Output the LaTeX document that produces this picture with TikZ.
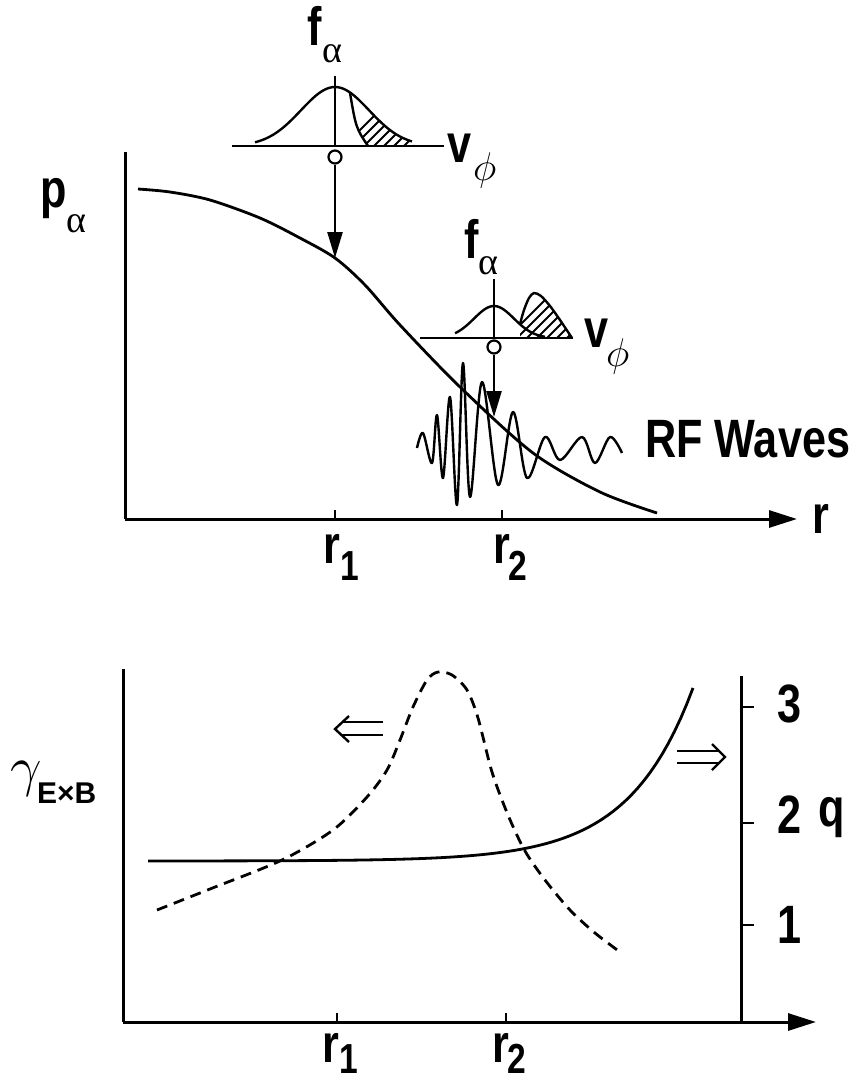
\documentclass[tikz,border=0pt]{standalone}
\usepackage{fix-cm}
\usepackage{fontspec}
\usetikzlibrary{arrows.meta}
\newfontfamily\lab[FakeStretch=0.8]{Liberation Sans}
\newfontfamily\labw{Liberation Sans}
\newfontfamily\grk{Liberation Serif}

\tikzset{
  axis/.style={line width=3pt},
  axtip/.style={-{Triangle[length=28pt,width=17pt]}},
  curve/.style={line width=2.8pt, line join=round},
  thinline/.style={line width=2.4pt},
  hatch/.style={line width=1.8pt},
  pointer/.style={line width=2.4pt, -{Triangle[length=26pt,width=15pt]}},
  dot/.style={draw, circle, line width=2.2pt, minimum size=13pt, inner sep=0pt, fill=white},
  big/.style={font=\lab\bfseries\fontsize{54}{54}\selectfont, inner sep=0pt, anchor=base west},
  subnum/.style={font=\lab\bfseries\fontsize{42}{42}\selectfont, inner sep=0pt, anchor=base west},
  greek/.style={font=\grk\fontsize{38}{38}\selectfont, inner sep=0pt, anchor=base west},
  mgreek/.style={font=\fontsize{40}{40}\selectfont, inner sep=0pt, anchor=base west},
}

\begin{document}
\begin{tikzpicture}[x=1pt,y=-1pt]
\useasboundingbox (0,0) rectangle (857,1085);

% ---------- top panel: p_alpha(r)
\draw[axis] (125,152) -- (125,519);
\draw[axis,axtip] (125,519) -- (797,519);
\foreach \x in {335,502} \draw[thinline] (\x,519) -- (\x,510);
\node[big] (pa) at (40,207) {p};
\node[greek] (pasub) at (66,232) {α};
\node[big] (rlab) at (812,533) {r};
\node[big] (ra) at (323,563) {r};
\node[subnum] (rasub) at (340,580) {1};
\node[big] (rb) at (493,563) {r};
\node[subnum] (rbsub) at (508,580) {2};

% profile
\draw[curve] plot[smooth] coordinates {(138,189) (170,192) (210,200) (260,218)
  (300,238) (335,258) (365,285) (400,325) (460,387) (533,453) (600,492) (657,513)};

% distribution at r1
\draw[thinline] (232,146) -- (444,146);
\draw[thinline] (335,76) -- (335,146);
\draw[thinline] plot[domain=255:412, samples=60] (\x,{146-59*exp(-((\x-335)^2)/2312)});
\begin{scope}
  \clip plot[domain=350:414, samples=30] (\x,{146-59*exp(-((\x-335)^2)/2312)})
    -- (414,146) -- (368,146) .. controls (356,128) .. (350,{146-59*exp(-((350-335)^2)/2312)}) -- cycle;
  \foreach \i in {0,...,9} \draw[hatch] (330+10*\i,160) -- ++(60,-60);
\end{scope}
\draw[thinline] (368,146) .. controls (356,128) .. (350,93);
\node[big] (fa) at (307,45) {f};
\node[greek] (fasub) at (322,62) {α};
\node[big] (va) at (447,162) {v};
\node[mgreek] (vasub) at (473,180) {$\phi$};
\node[dot] (dota) at (335,157) {};
\coordinate (hita) at (335,258);
\draw[pointer] (dota) -- (hita);

% distribution at r2
\draw[thinline] (420,338) -- (573,338);
\draw[thinline] (494,279) -- (494,338);
\draw[thinline] plot[domain=455:545, samples=50] (\x,{338-32*exp(-((\x-494)^2)/800)});
\begin{scope}
  \clip plot[smooth] coordinates {(520,324) (524,310) (529,298) (534,293) (541,296)
    (550,306) (560,320) (572,338)} -- (520,338) -- cycle;
  \foreach \i in {0,...,8} \draw[hatch] (500+10*\i,345) -- ++(60,-60);
\end{scope}
\draw[thinline] plot[smooth] coordinates {(520,324) (524,310) (529,298) (534,293)
  (541,296) (550,306) (560,320) (572,338)};
\node[big] (fb) at (464,258) {f};
\node[greek] (fbsub) at (478,274) {α};
\node[big] (vb) at (584,347) {v};
\node[mgreek] (vbsub) at (606,366) {$\phi$};
\node[dot] (dotb) at (494,347) {};
\coordinate (hitb) at (494,417);
\draw[pointer] (dotb) -- (hitb);

% RF wave packet
\draw[thinline, line join=round] plot[smooth, tension=0.55] coordinates {(417,448) (423,433) (432,463)
  (437,415) (443,478) (450,397) (457,505) (463,363) (470,497) (482,382) (498,485)
  (513,412) (527,478) (545,437) (560,460) (582,437) (595,463) (610,437) (622,453)};
\node[big] (rf) at (645,457) {RF Waves};

% ---------- bottom panel: gamma_ExB and q
\draw[axis] (123,669) -- (123,1022);
\draw[axis,axtip] (123,1022) -- (816,1022);
\foreach \x in {337,506} \draw[thinline] (\x,1022) -- (\x,1013);
\node[big] (rc) at (322,1062) {r};
\node[subnum] (rcsub) at (339,1073) {1};
\node[big] (rd) at (492,1062) {r};
\node[subnum] (rdsub) at (507,1073) {2};
\node[font=\fontsize{56}{56}\selectfont, inner sep=0pt, anchor=base west] (gam) at (10,785) {$\gamma$};
\node[font=\labw\bfseries\fontsize{30}{30}\selectfont, inner sep=0pt, anchor=base west] (gamsub) at (37,803) {E×B};

% q axis
\draw[axis] (741,676) -- (741,1022);
\foreach \y in {707,823,925} \draw[thinline] (741,\y) -- (754,\y);
\node[big] (qc) at (777,722) {3};
\node[big] (qb) at (777,833) {2};
\node[big] (qa) at (777,943) {1};
\node[big] (qlab) at (818,826) {q};

% shear (dashed) and q (solid)
\draw[curve, dash pattern=on 11pt off 7pt] plot[smooth] coordinates {(157,910) (210,889)
  (282,860) (333,830) (367,797) (387,770) (400,740) (413,707) (427,680) (438,672)
  (452,675) (467,690) (478,718) (492,772) (508,815) (525,851) (545,880) (570,910)
  (595,933) (620,952)};
\draw[curve] plot[domain=148:693, samples=90] (\x,{861-173*exp((\x-693)/64)});

% double arrows
\draw[thinline] (349,716) -- (335,729) -- (349,742);
\draw[thinline] (342,722) -- (383,722) (342,735) -- (383,735);
\draw[thinline] (712,744) -- (725,757) -- (712,770);
\draw[thinline] (677,751) -- (718,751) (677,763) -- (718,763);
\end{tikzpicture}
\end{document}
